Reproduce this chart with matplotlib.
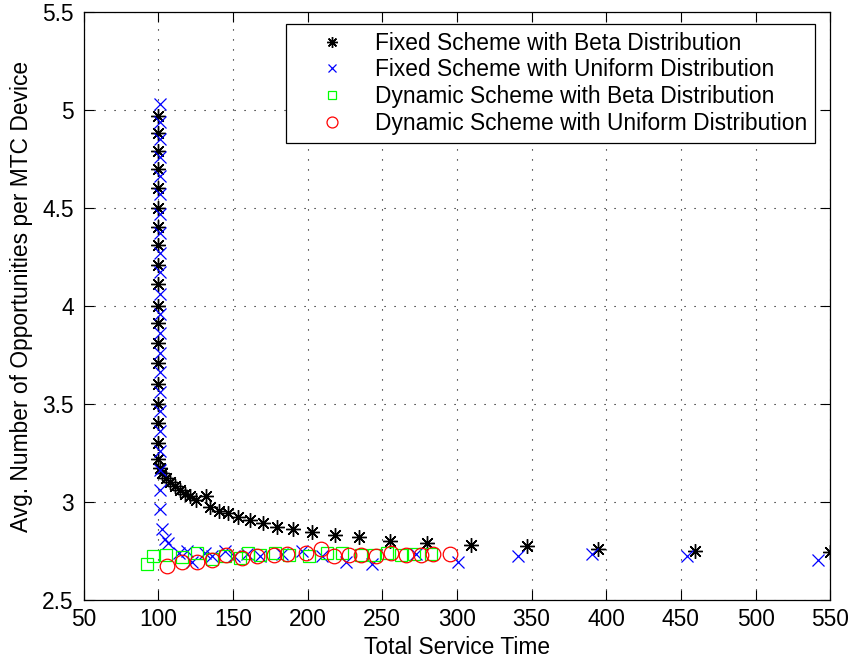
import matplotlib.pyplot as plt

plt.rcParams['font.family'] = ['Liberation Sans', 'DejaVu Sans']
plt.rcParams['font.size'] = 16.4

# Fixed scheme, beta distribution (black asterisks)
fb_x = [99.8] * 19 + [100.9, 102.5, 105.4, 108, 111, 114.8, 118.1, 121.5, 125.5, 132.2,
                      134.9, 140.5, 146.5, 153.2, 161.7, 170.3, 179.7, 190.4, 203.2, 218.3,
                      234.4, 255, 280.3, 309.4, 347, 394.8, 459.3, 549.9]
fb_y = [4.97, 4.88, 4.79, 4.70, 4.60, 4.50, 4.40, 4.31, 4.21, 4.11, 4.00, 3.91, 3.81, 3.71,
        3.60, 3.50, 3.40, 3.30, 3.22,
        3.17, 3.145, 3.12, 3.10, 3.08, 3.06, 3.04, 3.03, 3.01, 3.03,
        2.97, 2.95, 2.94, 2.92, 2.906, 2.89, 2.87, 2.86, 2.846, 2.83,
        2.818, 2.80, 2.79, 2.78, 2.773, 2.76, 2.75, 2.744]

# Fixed scheme, uniform distribution (blue crosses)
fu_x = [101.0] * 20 + [101.5, 101.5, 102.3, 104.5, 106.5,
                       113.6, 119.3, 122.6, 131.5, 136, 145, 150.5, 159.5, 168.5, 183,
                       196.4, 210, 225.5, 243.4, 272.5, 300.5, 341, 390.4, 454.2, 541.6]
fu_y = [5.03, 4.94, 4.85, 4.76, 4.66, 4.57, 4.47, 4.37, 4.27, 4.17, 4.06, 3.96, 3.86, 3.76,
        3.66, 3.56, 3.46, 3.36, 3.26, 3.16,
        3.06, 2.96, 2.86, 2.81, 2.79,
        2.74, 2.75, 2.69, 2.74, 2.72, 2.75, 2.72, 2.73, 2.72, 2.73,
        2.75, 2.72, 2.69, 2.68, 2.73, 2.69, 2.72, 2.73, 2.72, 2.70]

# Dynamic scheme, beta distribution (green squares)
db_x = [92.4, 96.8, 105.4, 115.9, 126, 136, 145, 155, 160, 168.5, 178.5, 187.4,
        200.9, 213.2, 223.3, 235.6, 244.5, 253.5, 262.4, 271.3, 282.6]
db_y = [2.68, 2.72, 2.727, 2.715, 2.736, 2.705, 2.72, 2.71, 2.736, 2.727, 2.736, 2.727,
        2.72, 2.736, 2.739, 2.727, 2.727, 2.739, 2.727, 2.732, 2.732]

# Dynamic scheme, uniform distribution (red circles)
du_x = [105.8, 115.9, 126, 136, 145.6, 156.2, 166.2, 177.4, 186.4, 198.7,
        208.7, 217.7, 227.7, 235.6, 245.6, 255.7, 265.8, 275.8, 283.7, 295.3]
du_y = [2.671, 2.69, 2.69, 2.70, 2.727, 2.71, 2.722, 2.727, 2.732, 2.736,
        2.758, 2.72, 2.727, 2.727, 2.72, 2.736, 2.727, 2.727, 2.732, 2.732]

labels = ['Fixed Scheme with Beta Distribution',
          'Fixed Scheme with Uniform Distribution',
          'Dynamic Scheme with Beta Distribution',
          'Dynamic Scheme with Uniform Distribution']

fig = plt.figure(figsize=(8.54, 6.62), dpi=100)
ax = fig.add_axes([0.0978, 0.0944, 0.8744, 0.8875])

ax.plot(fb_x, fb_y, linestyle='none', marker=(8, 2, 0), markersize=10.5,
        markeredgecolor='k', markeredgewidth=1.0, label=labels[0])
ax.plot(fu_x, fu_y, linestyle='none', marker='x', markersize=8.5,
        markeredgecolor='b', markeredgewidth=0.9, label=labels[1])
ax.plot(db_x, db_y, linestyle='none', marker='s', markersize=8.5,
        markerfacecolor='none', markeredgecolor=(0, 1, 0), markeredgewidth=0.9, label=labels[2])
ax.plot(du_x, du_y, linestyle='none', marker='o', markersize=10.5,
        markerfacecolor='none', markeredgecolor='r', markeredgewidth=0.9, label=labels[3])

ax.set_xlim(50, 550)
ax.set_ylim(2.5, 5.5)
ax.set_xticks(range(50, 551, 50))
ax.set_yticks([2.5, 3, 3.5, 4, 4.5, 5, 5.5])
ax.set_yticklabels(['2.5', '3', '3.5', '4', '4.5', '5', '5.5'])
ax.tick_params(direction='in', length=7, width=0.8, top=True, right=True)
ax.tick_params(axis='x', pad=6)
ax.tick_params(axis='y', pad=7)
for s in ax.spines.values():
    s.set_linewidth(0.9)
ax.grid(True, color='k', linestyle=(0, (1, 8)), linewidth=0.8)

ax.set_xlabel('Total Service Time')
ax.set_ylabel('Avg. Number of Opportunities per MTC Device')
ax.xaxis.set_label_coords(0.5, -0.062)
ax.yaxis.set_label_coords(-0.068, 0.515)

leg = ax.legend(loc='upper right', bbox_to_anchor=(0.98, 0.98), borderaxespad=0,
                fancybox=False, framealpha=1, edgecolor='k', handlelength=3.36,
                handletextpad=0.21, borderpad=0.35, labelspacing=0.16, markerscale=0.75)
leg.get_frame().set_linewidth(0.9)

plt.savefig('out.png', dpi=100)
